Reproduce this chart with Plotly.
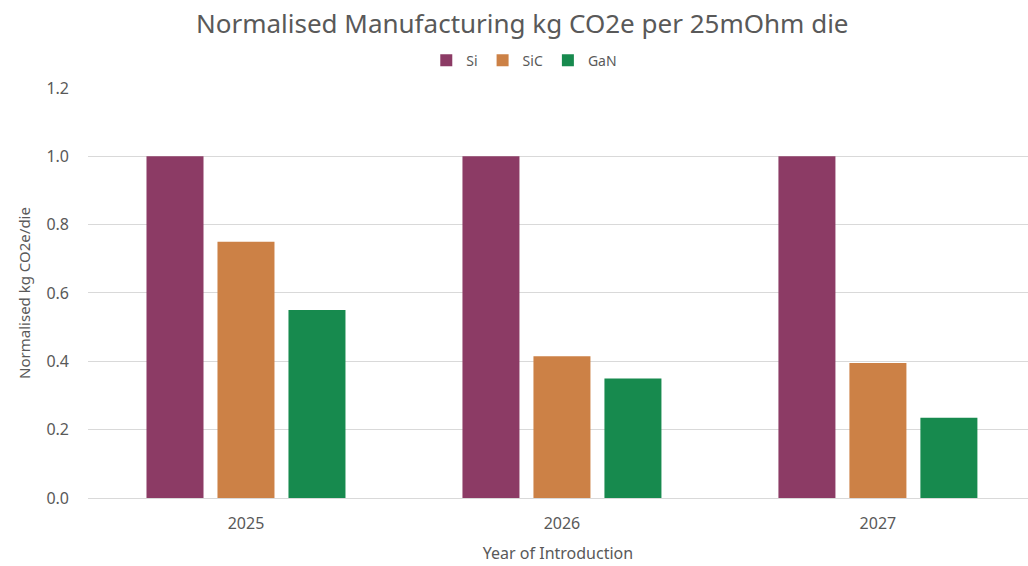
import plotly.graph_objects as go

years = ["2025", "2026", "2027"]
si = [1.0, 1.0, 1.0]
sic = [0.75, 0.415, 0.395]
gan = [0.55, 0.35, 0.235]

series = [
    ("Si", si, "#8C3B65"),
    ("SiC", sic, "#CC8146"),
    ("GaN", gan, "#178A4E"),
]

FONT = "Noto Sans"
GREY = "#595959"

fig = go.Figure()
for name, vals, color in series:
    fig.add_trace(go.Bar(
        x=years, y=vals, name=name,
        marker=dict(color=color, line=dict(width=0)),
    ))

fig.update_layout(
    width=1028, height=566,
    margin=dict(l=88, r=0, t=85, b=68),
    paper_bgcolor="white", plot_bgcolor="white",
    barmode="group", bargap=0.326, bargroupgap=0.197,
    font=dict(family=FONT, color=GREY),
    title=dict(
        text="Normalised Manufacturing kg CO2e per 25mOhm die",
        x=0.508, xanchor="center", xref="container",
        y=0.958, yanchor="middle", yref="container",
        font=dict(size=26, color=GREY, family=FONT),
    ),
    legend=dict(
        orientation="h", xref="container", yref="container",
        x=0.51, xanchor="center", y=0.893, yanchor="middle",
        font=dict(size=14, color=GREY), itemwidth=30,
        traceorder="normal",
    ),
    xaxis=dict(
        range=[-0.5, 2.475], showgrid=False, showline=False,
        ticks="", ticklabelstandoff=14,
        tickfont=dict(size=16, color=GREY),
        title=dict(text="Year of Introduction", font=dict(size=16, color=GREY), standoff=14),
    ),
    yaxis=dict(
        range=[0, 1.2], dtick=0.2, tickformat=".1f",
        showgrid=True, gridcolor="#D9D9D9", gridwidth=1,
        zeroline=True, zerolinecolor="#D9D9D9", zerolinewidth=1,
        ticks="", ticklabelstandoff=18,
        tickfont=dict(size=16, color=GREY),
        title=dict(text="Normalised kg CO2e/die", font=dict(size=15, color=GREY), standoff=12),
    ),
)

fig.write_html("out.html")
